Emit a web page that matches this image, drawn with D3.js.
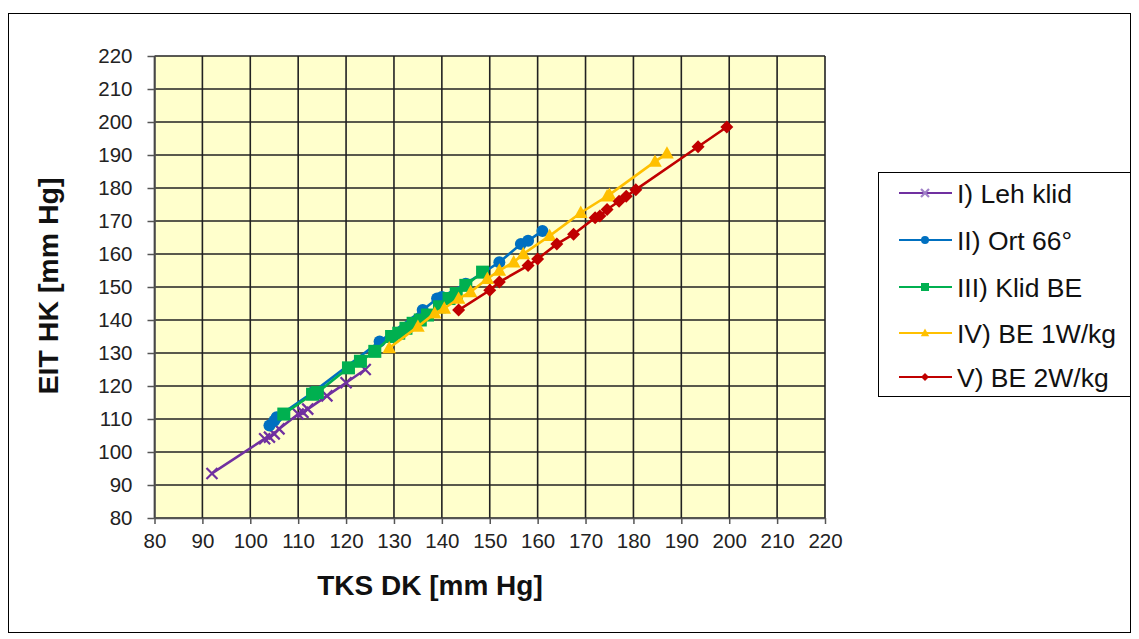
<!DOCTYPE html>
<html><head><meta charset="utf-8">
<script src="https://cdn.jsdelivr.net/npm/d3@7"></script>
<style>body{margin:0;background:#fff;}svg{display:block;font-family:"Liberation Sans",Arial,sans-serif;}</style>
</head><body><svg id="c" width="1139" height="639"></svg>
<script>
const xTicks = [80,90,100,110,120,130,140,150,160,170,180,190,200,210,220];
const yTicks = [80,90,100,110,120,130,140,150,160,170,180,190,200,210,220];
const seriesNames = ["I) Leh klid","II) Ort 66°","III) Klid BE","IV) BE 1W/kg","V) BE 2W/kg"];
const seriesColors = ["#7030A0","#0070C0","#00B050","#FFC000","#C00000"];
const seriesMarkers = ["cross","circle","square","triangle","diamond"];
const s1 = [[92,93.5],[103,104],[104,104.5],[105,105.5],[106,107],[110,111.5],[111,112],[112,113],[116,117],[120,121],[124,125]];
const s2 = [[104,108],[105,109.5],[105.5,110.5],[113,118],[127,133.5],[136,143],[139,146.5],[140,147],[145,151],[152,157.5],[156.5,163],[158,164],[161,167]];
const s3 = [[107,111.5],[113,117.5],[114,118],[120.5,125.5],[123,127.5],[126,130.5],[129.5,135],[131,136],[132.5,137.5],[134,139],[135.5,140],[137,141.5],[139.5,144],[141.5,146.5],[143,148],[145,150.5],[148.5,154.5]];
const s4 = [[129,131.5],[135,138],[138.5,142],[140.5,143.5],[143.5,146.5],[146,148.5],[149.5,152.5],[152,155],[155,157.5],[157,160],[162.5,165.5],[169,172.5],[174.5,177.5],[175,178],[184.5,188],[187,190.5]];
const s5 = [[143.5,143],[150,149],[152,151.5],[158,156.5],[160,158.5],[164,163],[167.5,166],[172,171],[173,171.5],[174.5,173.5],[177,176],[178.5,177.5],[180.5,179.5],[193.5,192.5],[199.5,198.5]];
const allSeries = [s1,s2,s3,s4,s5];

const svg = d3.select("#c");
svg.append("rect").attr("x",8.5).attr("y",13.5).attr("width",1122).attr("height",619)
  .attr("fill","#fff").attr("stroke","#000").attr("stroke-width",1);

const L=154.5, R=825, T=56, B=518;
const x = d3.scaleLinear().domain([80,220]).range([L,R]);
const y = d3.scaleLinear().domain([80,220]).range([B,T]);

svg.append("rect").attr("x",L).attr("y",T).attr("width",R-L).attr("height",B-T).attr("fill","#FFFFCC");

const g = svg.append("g");
g.selectAll(".vg").data(xTicks).enter().append("line")
  .attr("x1",d=>x(d)).attr("x2",d=>x(d)).attr("y1",T).attr("y2",B)
  .attr("stroke","#222").attr("stroke-width",1.6);
g.selectAll(".hg").data(yTicks).enter().append("line")
  .attr("y1",d=>y(d)).attr("y2",d=>y(d)).attr("x1",L).attr("x2",R)
  .attr("stroke","#222").attr("stroke-width",1.6);

const xAxis = svg.append("g").attr("transform",`translate(0,${B})`)
  .call(d3.axisBottom(x).tickValues(xTicks).tickSize(6).tickSizeOuter(0).tickPadding(9));
const yAxis = svg.append("g").attr("transform",`translate(${L},0)`)
  .call(d3.axisLeft(y).tickValues(yTicks).tickSize(7).tickSizeOuter(0).tickPadding(15));
[xAxis,yAxis].forEach(a=>{
  a.select(".domain").attr("stroke","#555").attr("stroke-width",1.5);
  a.selectAll(".tick line").attr("stroke","#555").attr("stroke-width",1.5);
  a.selectAll("text").attr("font-size",20.5).attr("fill","#222").attr("font-family","'Liberation Sans',Arial,sans-serif");
});

function drawMarker(sel, type, color, size){
  const s=size/2;
  if(type==="cross"){
    sel.append("path").attr("d",`M${-s},${-s}L${s},${s}M${-s},${s}L${s},${-s}`)
      .attr("stroke",color).attr("stroke-width",2.2).attr("fill","none");
  } else if(type==="circle"){
    sel.append("circle").attr("r",s).attr("fill",color);
  } else if(type==="square"){
    sel.append("rect").attr("x",-s).attr("y",-s).attr("width",size).attr("height",size).attr("fill",color);
  } else if(type==="triangle"){
    sel.append("path").attr("d",`M0,${-s*1.1}L${s*1.05},${s*0.8}L${-s*1.05},${s*0.8}Z`).attr("fill",color);
  } else if(type==="diamond"){
    sel.append("path").attr("d",`M0,${-s}L${s},0L0,${s}L${-s},0Z`).attr("fill",color);
  }
}
const markerSize=[11,12,13,13,13];

const line = d3.line().x(d=>x(d[0])).y(d=>y(d[1]));
allSeries.forEach((data,i)=>{
  const col=seriesColors[i];
  const sg = svg.append("g");
  sg.append("path").datum(data).attr("d",line).attr("fill","none").attr("stroke",col).attr("stroke-width",2.6);
  sg.selectAll("g.m").data(data).enter().append("g")
    .attr("transform",d=>`translate(${x(d[0])},${y(d[1])})`)
    .each(function(){ drawMarker(d3.select(this), seriesMarkers[i], col, markerSize[i]); });
});

svg.append("text").attr("x",430).attr("y",595).attr("text-anchor","middle")
  .attr("font-size",28).attr("font-weight","bold").attr("fill","#111").text("TKS DK [mm Hg]");
svg.append("text").attr("transform","translate(58,286) rotate(-90)").attr("text-anchor","middle")
  .attr("font-size",28.5).attr("font-weight","bold").attr("fill","#111").text("EIT HK [mm Hg]");

const lg = svg.append("g");
lg.append("rect").attr("x",878.5).attr("y",172.5).attr("width",252).attr("height",224)
  .attr("fill","#fff").attr("stroke","#000").attr("stroke-width",1);
const rowY=[193,240,287,333,377];
seriesNames.forEach((n,i)=>{
  const col=seriesColors[i];
  const r=lg.append("g").attr("transform",`translate(0,${rowY[i]})`);
  r.append("line").attr("x1",899).attr("x2",952).attr("y1",0).attr("y2",0).attr("stroke",col).attr("stroke-width",2.2);
  const mg=r.append("g").attr("transform","translate(925,0)");
  drawMarker(mg, seriesMarkers[i], i===0 ? "#A080C8" : col, 8);
  r.append("text").attr("x",957).attr("y",10).attr("font-size",26.5).attr("fill","#111").text(n);
});
</script></body></html>
